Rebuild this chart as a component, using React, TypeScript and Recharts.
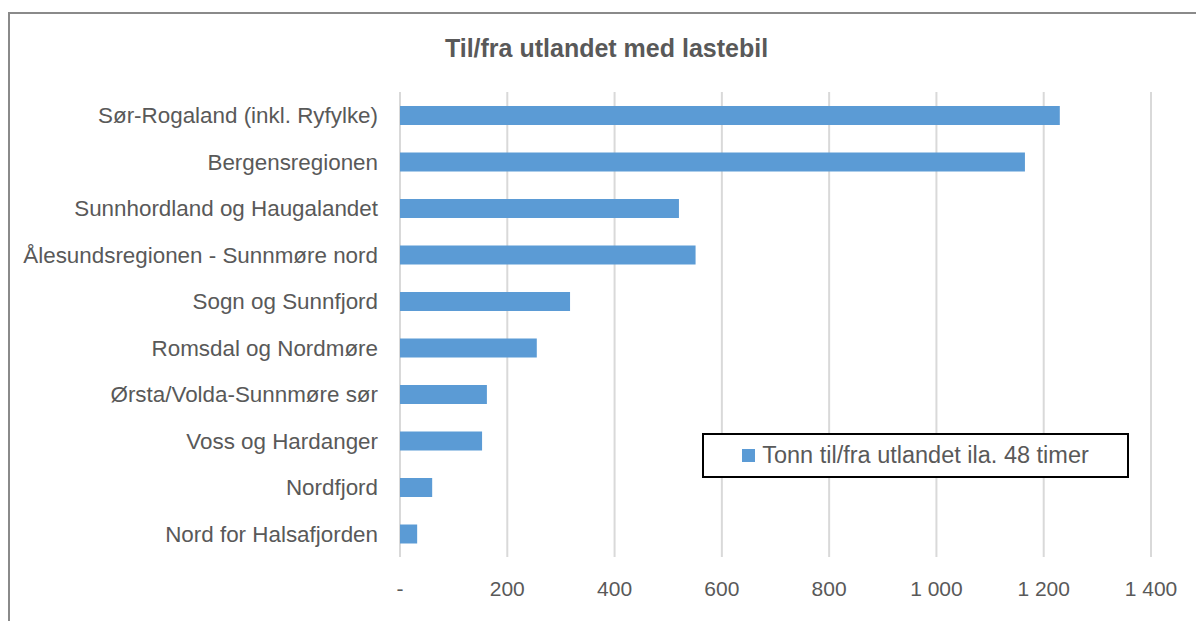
import React from 'react';
import { BarChart, Bar, XAxis, YAxis, CartesianGrid } from 'recharts';

// regioner, ovenfra og ned
const regions = [
  'Sør-Rogaland (inkl. Ryfylke)',
  'Bergensregionen',
  'Sunnhordland og Haugalandet',
  'Ålesundsregionen - Sunnmøre nord',
  'Sogn og Sunnfjord',
  'Romsdal og Nordmøre',
  'Ørsta/Volda-Sunnmøre sør',
  'Voss og Hardanger',
  'Nordfjord',
  'Nord for Halsafjorden',
];

// tonn til/fra utlandet ila. 48 timer
const tonnes = [1230, 1165, 520, 551, 317, 255, 162, 153, 60, 32];

const xTicks = [0, 200, 400, 600, 800, 1000, 1200, 1400];

const seriesName = 'Tonn til/fra utlandet ila. 48 timer';
const title = 'Til/fra utlandet med lastebil';

const FONT = '"Liberation Sans", Arial, sans-serif';
const TEXT = '#595959';
const BLUE = '#5b9bd5';

const data = regions.map((region, i) => ({ region, value: tonnes[i] }));

// 0 vises som "-", tusenskille med mellomrom
const fmt = (v: number) =>
  v === 0 ? '-' : String(v).replace(/\B(?=(\d{3})+(?!\d))/g, ' ');

export default function App() {
  return (
    <div
      style={{
        position: 'absolute',
        left: 0,
        top: 0,
        width: 1196,
        height: 621,
        overflow: 'hidden',
        background: '#fff',
        fontFamily: FONT,
      }}
    >
      <div
        style={{
          position: 'absolute',
          left: 8,
          top: 12,
          width: 1220,
          height: 640,
          border: '2px solid #8a8a8a',
          boxSizing: 'border-box',
        }}
      />
      <div
        style={{
          position: 'absolute',
          left: 0,
          width: 1213,
          top: 34,
          textAlign: 'center',
          fontSize: 25,
          fontWeight: 'bold',
          color: TEXT,
        }}
      >
        {title}
      </div>
      <div style={{ position: 'absolute', left: 0, top: 0 }}>
        <BarChart
          width={1196}
          height={621}
          data={data}
          layout="vertical"
          margin={{ top: 92, right: 45, bottom: 24, left: 10 }}
          barCategoryGap={0}
        >
          <CartesianGrid horizontal={false} stroke="#d9d9d9" strokeWidth={2} />
          <XAxis
            type="number"
            domain={[0, 1400]}
            ticks={xTicks}
            tickFormatter={fmt}
            axisLine={false}
            tickLine={false}
            height={40}
            tickMargin={18}
            tick={{ fontSize: 21, fill: TEXT, fontFamily: FONT }}
          />
          <YAxis
            type="category"
            dataKey="region"
            width={390}
            axisLine={false}
            tickLine={false}
            tickMargin={16}
            interval={0}
            tick={{ fontSize: 22.4, fill: TEXT, fontFamily: FONT }}
          />
          <Bar dataKey="value" fill={BLUE} barSize={19} isAnimationActive={false} />
        </BarChart>
      </div>
      <div
        style={{
          position: 'absolute',
          left: 702,
          top: 433,
          width: 427,
          height: 45,
          border: '2px solid #000',
          boxSizing: 'border-box',
          display: 'flex',
          alignItems: 'center',
          justifyContent: 'center',
          background: '#fff',
          fontSize: 23.5,
          color: TEXT,
        }}
      >
        <span
          style={{
            display: 'inline-block',
            width: 13,
            height: 13,
            background: BLUE,
            marginRight: 7,
          }}
        />
        {seriesName}
      </div>
    </div>
  );
}
